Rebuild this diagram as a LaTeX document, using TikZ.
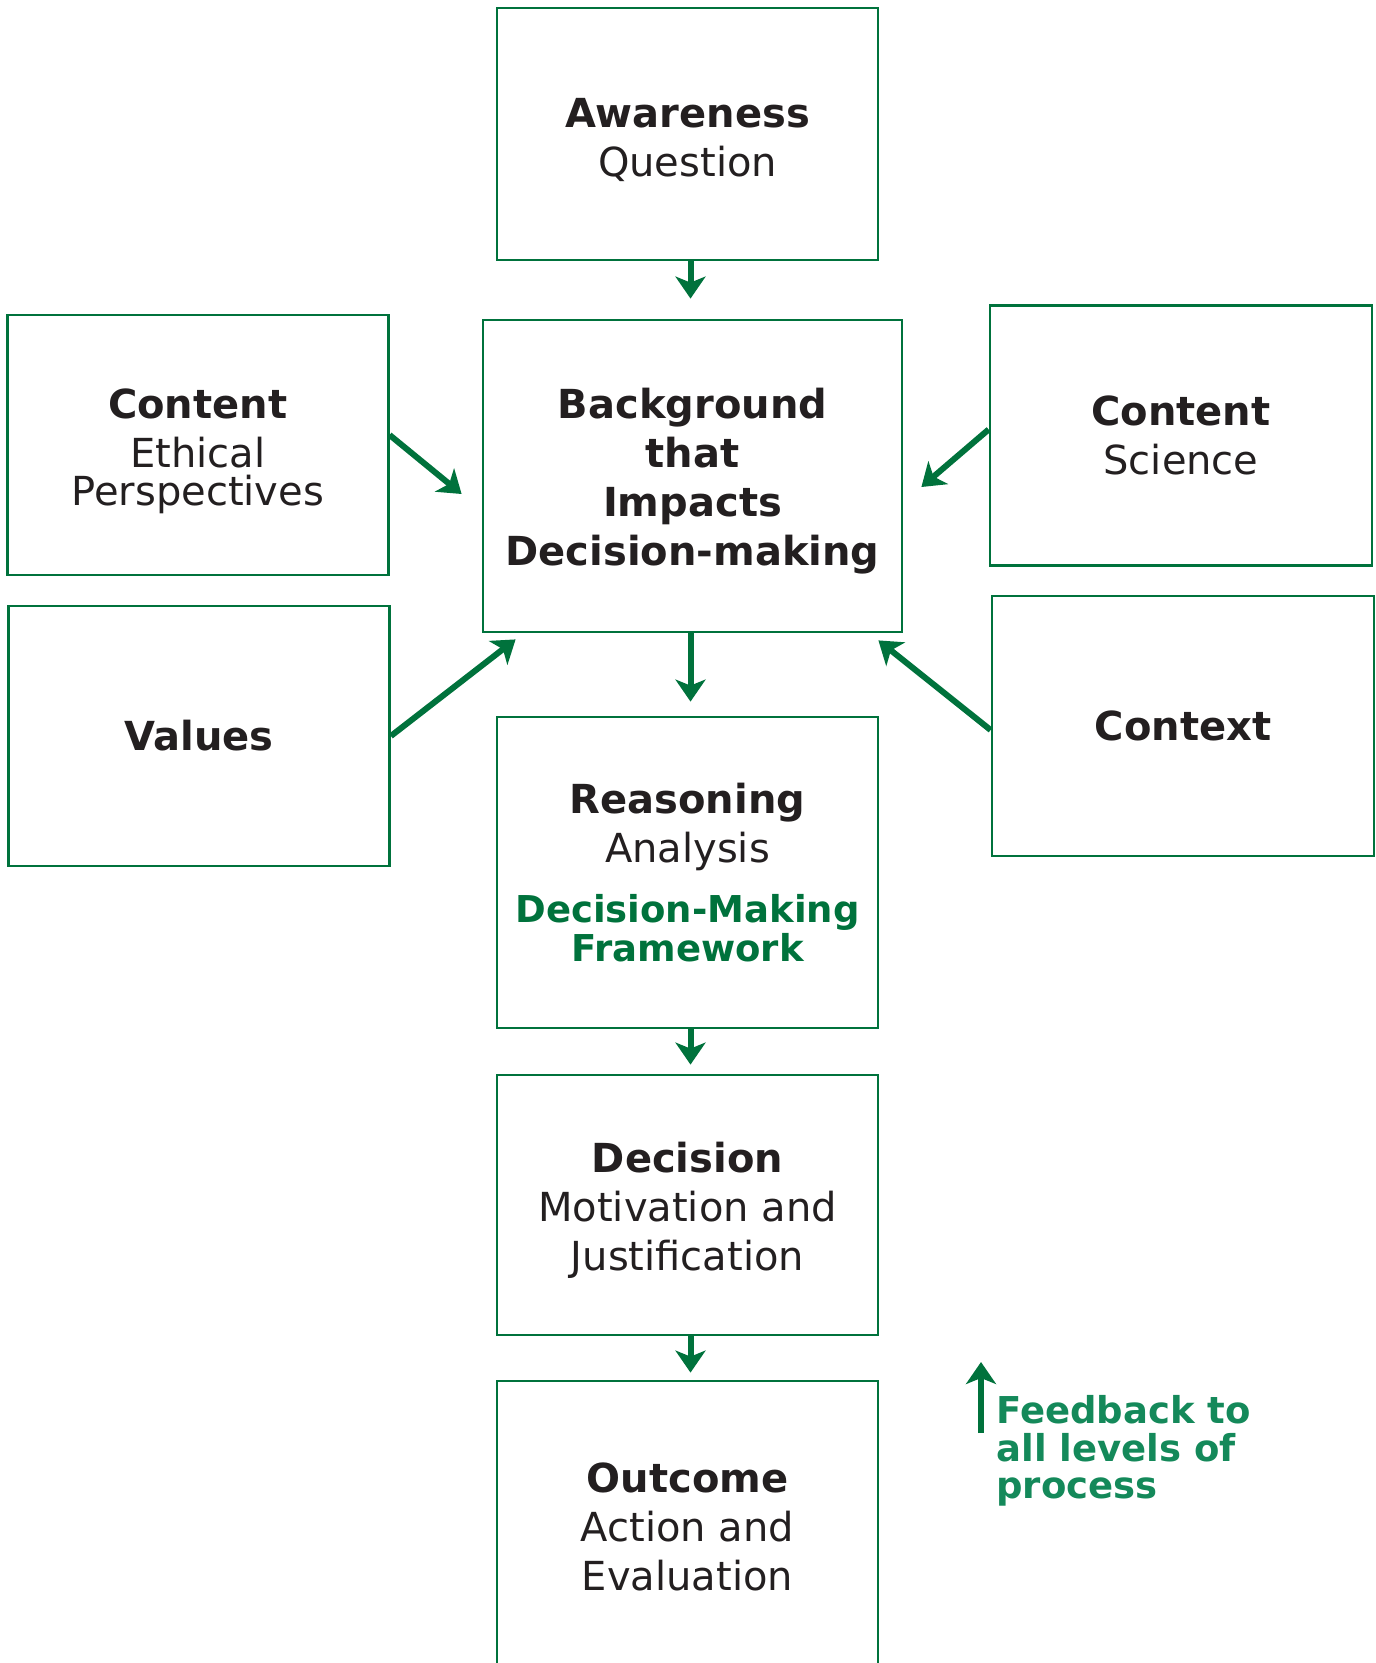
\documentclass[tikz,border=0pt]{standalone}
\usepackage{fontspec}
\setmainfont{DejaVu Sans}
\usetikzlibrary{arrows.meta, positioning, calc}
\definecolor{dmgreen}{RGB}{0,114,60}
\definecolor{fbgreen}{RGB}{20,137,90}
\definecolor{ink}{RGB}{35,31,32}

\newcommand{\hd}[1]{\textbf{#1}}
\newcommand{\dmf}{\fontsize{18.5}{19.5}\selectfont\bfseries}
\newcommand{\lift}[1]{\rule{0pt}{#1}}

\begin{document}
\begin{tikzpicture}[
  x=0.5pt, y=-0.5pt,
  >={Stealth[length=11pt, width=15pt, inset=3pt]},
  every node/.style={font=\fontsize{20}{24.5}\selectfont, text=ink},
  %% ── Box styles ──────────────────────────────────────────────────────────
  box/.style={
    draw=dmgreen, line width=1.4pt,
    minimum width=190.5pt, minimum height=130pt,
    align=center, inner sep=0pt
  },
  %% ── Arrow styles ────────────────────────────────────────────────────────
  arr/.style={
    ->, draw=dmgreen, line width=3pt
  },
  %% ── Annotation styles ───────────────────────────────────────────────────
  fbtext/.style={
    font=\fontsize{18.5}{18.75}\selectfont\bfseries, text=fbgreen,
    align=left, inner sep=0pt, anchor=north west
  },
]

\useasboundingbox (0,0) rectangle (1375,1663);

%% ═══════════════════════════════════════════════════════════════════════════
%% NODES
%% ═══════════════════════════════════════════════════════════════════════════

%% — Central column ──────────────────────────────────────────────────────────
\node[box, minimum height=126pt]
  (aw) at (687.5, 134)
  {\lift{20.5pt}\hd{Awareness}\\Question};

\node[box, minimum width=209.5pt, minimum height=156pt]
  (bg) at (692.5, 476)
  {\lift{20.5pt}\hd{Background}\\\hd{that}\\\hd{Impacts}\\\hd{Decision-making}};

\node[box, minimum height=155.5pt]
  (rea) at (687.5, 872.5)
  {\hd{Reasoning}\\Analysis\\[5.5pt]
   \textcolor{dmgreen}{\dmf Decision-Making}\\[-5pt]
   \textcolor{dmgreen}{\dmf Framework}};

\node[box]
  (dec) at (687.5, 1205)
  {\lift{20.5pt}\hd{Decision}\\Motivation and\\Justification};

\node[box, minimum height=145.5pt]
  (out) at (687.5, 1526.5)
  {\hd{Outcome}\\Action and\\Evaluation};

%% — Side inputs ─────────────────────────────────────────────────────────────
\node[box]
  (eth) at (197.7, 445)
  {\lift{21.5pt}\hd{Content}\\Ethical\\[-5.5pt]Perspectives};

\node[box]
  (val) at (199, 736)
  {\hd{Values}};

\node[box, minimum width=191pt]
  (sci) at (1181, 435.5)
  {\hd{Content}\\Science};

\node[box, minimum width=191pt]
  (ctx) at (1183, 726)
  {\hd{Context}};

%% — Feedback note ───────────────────────────────────────────────────────────
\node[fbtext]
  (fb) at (996, 1395)
  {Feedback to\\all levels of\\process};

%% ═══════════════════════════════════════════════════════════════════════════
%% MAIN FLOW
%% ═══════════════════════════════════════════════════════════════════════════

\coordinate (spine) at ($(bg.center)+(-2,0)$);

\draw[arr, shorten >=10pt] (aw.south -| spine) -- (bg.north -| spine);
\draw[arr, shorten >=7pt] (bg.south -| spine) -- (rea.north -| spine);
\draw[arr, shorten >=4.5pt] (rea.south -| spine) -- (dec.north -| spine);
\draw[arr, shorten >=3.5pt] (dec.south -| spine) -- (out.north -| spine);

%% ═══════════════════════════════════════════════════════════════════════════
%% INPUTS INTO BACKGROUND
%% ═══════════════════════════════════════════════════════════════════════════

\draw[arr] ($(eth.east)+(0,-10)$) -- ($(bg.west)+(-20,18)$);
\draw[arr] (val.east) -- ($(bg.south west)+(34,6)$);
\draw[arr] ($(sci.west)+(0,-6)$) -- ($(bg.east)+(18,11)$);
\draw[arr] ($(ctx.west)+(0,4)$) -- ($(bg.south east)+(-25,7)$);

%% — feedback arrow ──────────────────────────────────────────────────────────
\draw[arr] ($(fb.north west)+(-15,38)$) -- ($(fb.north west)+(-15,-33)$);

\end{tikzpicture}
\end{document}
